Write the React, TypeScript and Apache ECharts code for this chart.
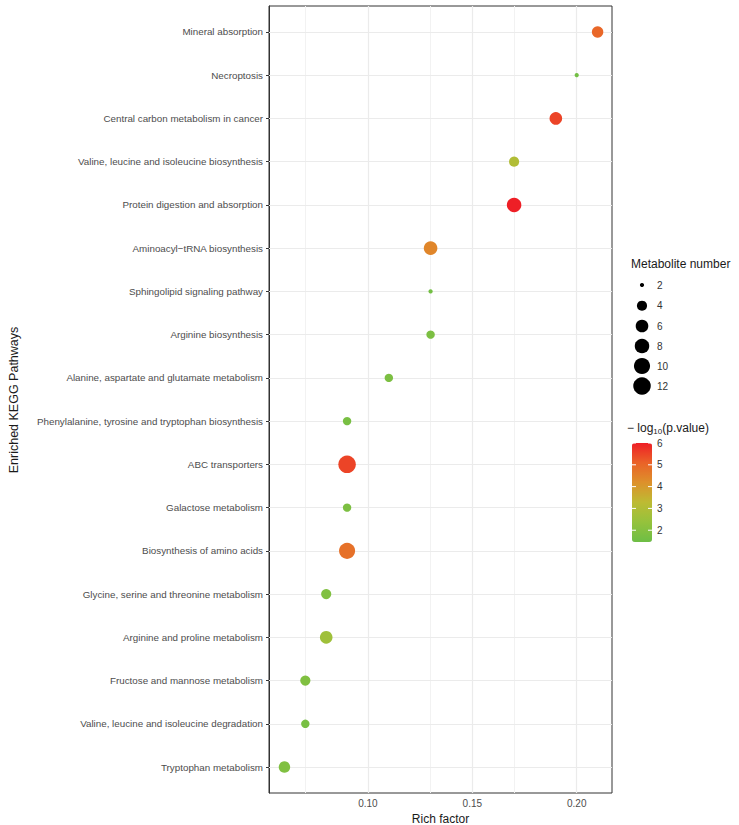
import React, { useEffect, useRef } from "react";
import * as echarts from "echarts";

const pathways = [
  "Mineral absorption",
  "Necroptosis",
  "Central carbon metabolism in cancer",
  "Valine, leucine and isoleucine biosynthesis",
  "Protein digestion and absorption",
  "Aminoacyl\u2212tRNA biosynthesis",
  "Sphingolipid signaling pathway",
  "Arginine biosynthesis",
  "Alanine, aspartate and glutamate metabolism",
  "Phenylalanine, tyrosine and tryptophan biosynthesis",
  "ABC transporters",
  "Galactose metabolism",
  "Biosynthesis of amino acids",
  "Glycine, serine and threonine metabolism",
  "Arginine and proline metabolism",
  "Fructose and mannose metabolism",
  "Valine, leucine and isoleucine degradation",
  "Tryptophan metabolism",
];
const richFactor = [0.21, 0.2, 0.19, 0.17, 0.17, 0.13, 0.13, 0.13, 0.11, 0.09, 0.09, 0.09, 0.09, 0.08, 0.08, 0.07, 0.07, 0.06];
const metaboliteNumber = [5, 2, 6, 4, 8, 7, 2, 3, 3, 3, 12, 3, 10, 4, 6, 4, 3, 5];
const negLogP = [5.0, 1.6, 5.5, 3.0, 6.0, 4.4, 1.6, 1.8, 1.8, 1.7, 5.5, 1.8, 4.8, 1.9, 2.6, 1.9, 1.7, 1.9];

const xTicks = [0.1, 0.15, 0.2];
const xMinorTicks = [0.075, 0.125, 0.175];
const sizeBreaks = [2, 4, 6, 8, 10, 12];
const colorBreaks = [2, 3, 4, 5, 6];

const X_MIN = 0.0526;
const X_MAX = 0.2169;
const P_MIN = 1.46;
const P_MAX = 6.0;
const SIZE_MIN = 2;
const SIZE_MAX = 12;
const gradient = ["#6DBE45", "#95C23C", "#BDBB33", "#DD912B", "#EA6228", "#EE1F26"];

function dotDiameter(n: number) {
  return 4.2 + 13.3 * Math.sqrt(Math.max(0, n - SIZE_MIN) / (SIZE_MAX - SIZE_MIN));
}

const FONT = "Liberation Sans, Arial, sans-serif";

export default function App() {
  const ref = useRef<HTMLDivElement>(null);
  useEffect(() => {
    if (!ref.current) return;
    const chart = echarts.init(ref.current, undefined, { renderer: "svg" });
    const idx = pathways.map((_, i) => i);
    const gridColor = "#EBEBEB";

    const barLeft = 632;
    const barTop = 443;
    const barH = 99;
    const barW = 20;
    const yOfP = (v: number) => barTop + barH - ((v - P_MIN) / (P_MAX - P_MIN)) * barH;

    const sizeYs = [285, 305.7, 326, 346, 366, 386];

    const graphics: any[] = [
      {
        type: "text",
        x: 14,
        y: 400,
        rotation: Math.PI / 2,
        style: { text: "Enriched KEGG Pathways", font: `12.5px ${FONT}`, fill: "#1A1A1A", align: "center", verticalAlign: "middle" },
      },
      {
        type: "text",
        x: 631,
        y: 264,
        style: { text: "Metabolite number", font: `12px ${FONT}`, fill: "#1A1A1A", align: "left", verticalAlign: "middle" },
      },
      ...sizeBreaks.map((b, i) => ({
        type: "circle",
        shape: { cx: 642, cy: sizeYs[i], r: dotDiameter(b) / 2 },
        style: { fill: "#000" },
      })),
      ...sizeBreaks.map((b, i) => ({
        type: "text",
        x: 657,
        y: sizeYs[i],
        style: { text: String(b), font: `10px ${FONT}`, fill: "#333", align: "left", verticalAlign: "middle" },
      })),
      {
        type: "text",
        x: 627,
        y: 428,
        style: {
          text: "\u2212 log{sub|10}(p.value)",
          font: `12px ${FONT}`,
          fill: "#1A1A1A",
          align: "left",
          verticalAlign: "middle",
          rich: { sub: { fontSize: 8, verticalAlign: "bottom", padding: [6, 0, 0, 0], fontFamily: FONT } },
        },
      },
      ...colorBreaks.map((b) => ({
        type: "text",
        x: 657,
        y: yOfP(b),
        style: { text: String(b), font: `10px ${FONT}`, fill: "#333", align: "left", verticalAlign: "middle" },
      })),
      ...colorBreaks.flatMap((b) => [
        { type: "line", z: 100, shape: { x1: barLeft, y1: yOfP(b), x2: barLeft + 4, y2: yOfP(b) }, style: { stroke: "#fff", lineWidth: 1 } },
        { type: "line", z: 100, shape: { x1: barLeft + barW - 4, y1: yOfP(b), x2: barLeft + barW, y2: yOfP(b) }, style: { stroke: "#fff", lineWidth: 1 } },
      ]),
    ];

    chart.setOption({
      animation: false,
      backgroundColor: "#fff",
      grid: {
        left: 269,
        right: 127,
        top: 6,
        bottom: 32,
        show: true,
        borderColor: "#333",
        borderWidth: 1,
        backgroundColor: "#fff",
        containLabel: false,
        outerBoundsMode: "none",
      },
      xAxis: {
        type: "value",
        min: X_MIN,
        max: X_MAX,
        name: "Rich factor",
        nameLocation: "middle",
        nameGap: 18,
        nameTextStyle: { fontFamily: FONT, fontSize: 12, color: "#1A1A1A", verticalAlign: "top" },
        axisLine: { show: true, lineStyle: { color: "#333", width: 1 } },
        axisTick: { show: true, length: 3, customValues: xTicks, lineStyle: { color: "#333" } },
        axisLabel: {
          customValues: xTicks,
          margin: 5,
          fontFamily: FONT,
          fontSize: 10,
          color: "#4D4D4D",
          formatter: (v: number) => v.toFixed(2),
        },
        splitLine: { show: false },
      },
      yAxis: {
        type: "value",
        inverse: true,
        min: -0.6,
        max: pathways.length - 1 + 0.6,
        axisLine: { show: true, lineStyle: { color: "#333", width: 1 } },
        axisTick: { show: true, length: 3, customValues: idx, lineStyle: { color: "#333" } },
        axisLabel: {
          customValues: idx,
          margin: 6,
          fontFamily: FONT,
          fontSize: 9.8,
          color: "#4D4D4D",
          formatter: (v: number) => pathways[Math.round(v)] ?? "",
        },
        splitLine: { show: false },
      },
      visualMap: {
        type: "continuous",
        show: true,
        seriesIndex: 1,
        dimension: 3,
        min: P_MIN,
        max: P_MAX,
        left: barLeft,
        top: barTop,
        itemWidth: barW,
        itemHeight: barH,
        padding: 0,
        calculable: false,
        hoverLink: false,
        inRange: { color: gradient },
      },
      graphic: graphics,
      series: [
        {
          type: "scatter",
          data: [],
          z: 1,
          silent: true,
          markLine: {
            z: 1,
            silent: true,
            symbol: ["none", "none"],
            label: { show: false },
            animation: false,
            data: [
              ...xMinorTicks.map((x) => ({ xAxis: x, lineStyle: { color: "#F2F2F2", width: 1, type: "solid" } })),
              ...xTicks.map((x) => ({ xAxis: x, lineStyle: { color: gridColor, width: 1.2, type: "solid" } })),
              ...idx.map((i) => ({ yAxis: i, lineStyle: { color: gridColor, width: 1.2, type: "solid" } })),
            ],
          },
        },
        {
          type: "scatter",
          z: 10,
          data: pathways.map((_, i) => [richFactor[i], i, metaboliteNumber[i], negLogP[i]]),
          symbolSize: (v: number[]) => dotDiameter(v[2]),
          itemStyle: { opacity: 1 },
        },
      ],
    });
    return () => chart.dispose();
  }, []);
  return <div ref={ref} style={{ position: "absolute", left: 0, top: 0, width: 739, height: 825 }} />;
}
